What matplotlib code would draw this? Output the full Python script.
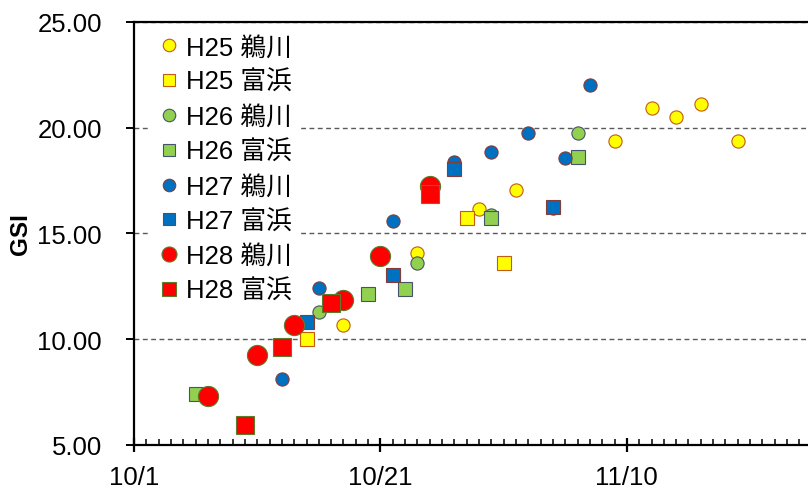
import numpy as np
import pandas as pd
import matplotlib
matplotlib.use("Agg")
import matplotlib.pyplot as plt
import matplotlib.dates as mdates
from matplotlib.lines import Line2D
from matplotlib.ticker import FuncFormatter

plt.rcParams['font.family'] = ['Liberation Sans', 'Noto Sans CJK JP', 'DejaVu Sans']

# GSI by sampling date (month/day), one list per series
h25_ukawa_dates = ["10/18", "10/24", "10/29", "11/1", "11/9", "11/12", "11/14", "11/16", "11/19"]
h25_ukawa_gsi = [10.66, 14.09, 16.16, 17.03, 19.35, 20.90, 20.49, 21.10, 19.35]

h25_tomi_dates = ["10/15", "10/28", "10/31"]
h25_tomi_gsi = [10.00, 15.74, 13.62]

h26_ukawa_dates = ["10/16", "10/21", "10/24", "10/30", "11/6"]
h26_ukawa_gsi = [11.29, 14.06, 13.62, 15.88, 19.72]

h26_tomi_dates = ["10/6", "10/20", "10/23", "10/30", "11/6"]
h26_tomi_gsi = [7.41, 12.12, 12.39, 15.74, 18.60]

h27_ukawa_dates = ["10/13", "10/16", "10/22", "10/27", "10/30", "11/2", "11/4", "11/5", "11/7"]
h27_ukawa_gsi = [8.11, 12.44, 15.58, 18.35, 18.82, 19.72, 16.20, 18.55, 22.00]

h27_tomi_dates = ["10/15", "10/22", "10/27", "11/4"]
h27_tomi_gsi = [10.79, 13.03, 18.02, 16.26]

h28_ukawa_dates = ["10/7", "10/11", "10/14", "10/18", "10/21", "10/25"]
h28_ukawa_gsi = [7.33, 9.25, 10.66, 11.84, 13.93, 17.26]

h28_tomi_dates = ["10/10", "10/13", "10/17", "10/25"]
h28_tomi_gsi = [5.96, 9.61, 11.70, 16.84]

labels = ["H25 鵜川", "H25 富浜", "H26 鵜川", "H26 富浜",
          "H27 鵜川", "H27 富浜", "H28 鵜川", "H28 富浜"]
xtick_dates = ["10/1", "10/21", "11/10"]


def to_dates(md):
    return pd.to_datetime(["2000/" + d for d in md])


series = [
    (h25_ukawa_dates, h25_ukawa_gsi, "o", "#FFFF00", "#C55A11", 9.5),
    (h25_tomi_dates, h25_tomi_gsi, "s", "#FFFF00", "#C55A11", 9.5),
    (h26_ukawa_dates, h26_ukawa_gsi, "o", "#92D050", "#44546A", 9.5),
    (h26_tomi_dates, h26_tomi_gsi, "s", "#92D050", "#44546A", 9.5),
    (h27_ukawa_dates, h27_ukawa_gsi, "o", "#0070C0", "#843C39", 9.5),
    (h27_tomi_dates, h27_tomi_gsi, "s", "#0070C0", "#843C39", 9.5),
    (h28_ukawa_dates, h28_ukawa_gsi, "o", "#FF0000", "#5E7A2E", 14.5),
    (h28_tomi_dates, h28_tomi_gsi, "s", "#FF0000", "#5E7A2E", 13.5),
]

fig = plt.figure(figsize=(8.08, 4.89), dpi=100)
ax = fig.add_axes([134 / 808, 1 - 446 / 489, 1 - 134 / 808, (446 - 22.7) / 489])

handles = []
for (dates, vals, mk, fc, ec, ms), lab in zip(series, labels):
    ax.plot(to_dates(dates), vals, linestyle="none", marker=mk, markersize=ms,
            markerfacecolor=fc, markeredgecolor=ec, markeredgewidth=0.8, zorder=3)
    handles.append(Line2D([], [], linestyle="none", marker=mk,
                          markersize=ms * (0.78 if ms > 10 else 1.0) - 0.5,
                          markerfacecolor=fc, markeredgecolor=ec,
                          markeredgewidth=0.8))

base = pd.Timestamp("2000-10-01")
ax.set_xlim(mdates.date2num(base), mdates.date2num(base) + 54.7)
ax.set_ylim(5, 25)
ax.set_yticks([5, 10, 15, 20, 25])
ax.yaxis.set_major_formatter(FuncFormatter(lambda v, p: f"{v:.2f}"))

ax.set_xticks(to_dates(xtick_dates))
ax.xaxis.set_minor_locator(mdates.DayLocator())
ax.xaxis.set_major_formatter(FuncFormatter(
    lambda v, p: f"{mdates.num2date(v).month}/{mdates.num2date(v).day}"))

ax.grid(axis="y", linestyle=(0, (3.5, 2.5)), color="#595959", linewidth=1.0, zorder=1)
ax.set_axisbelow(True)

for side in ["left", "bottom", "top"]:
    ax.spines[side].set_linewidth(1.6)
    ax.spines[side].set_color("black")
ax.spines["right"].set_visible(False)

ax.tick_params(axis="y", direction="out", length=6, width=1.4, pad=17, labelsize=18.5)
ax.tick_params(axis="x", which="major", direction="inout", length=10, width=1.6,
               pad=9.5, labelsize=18.5)
ax.tick_params(axis="x", which="minor", direction="in", length=4.5, width=1.1)

ax.set_ylabel("GSI", fontsize=17.5, fontweight="bold")
ax.yaxis.set_label_coords(-0.152, 0.501)

leg = ax.legend(handles, labels, loc="upper left", bbox_to_anchor=(0.014, 0.998),
                fontsize=18.5, frameon=True, facecolor="white", edgecolor="none",
                framealpha=1, labelspacing=0.42, handletextpad=0.15,
                handlelength=1.0, borderpad=0.3, borderaxespad=0.2)
leg.set_zorder(2)

fig.savefig("out.png", dpi=100)
